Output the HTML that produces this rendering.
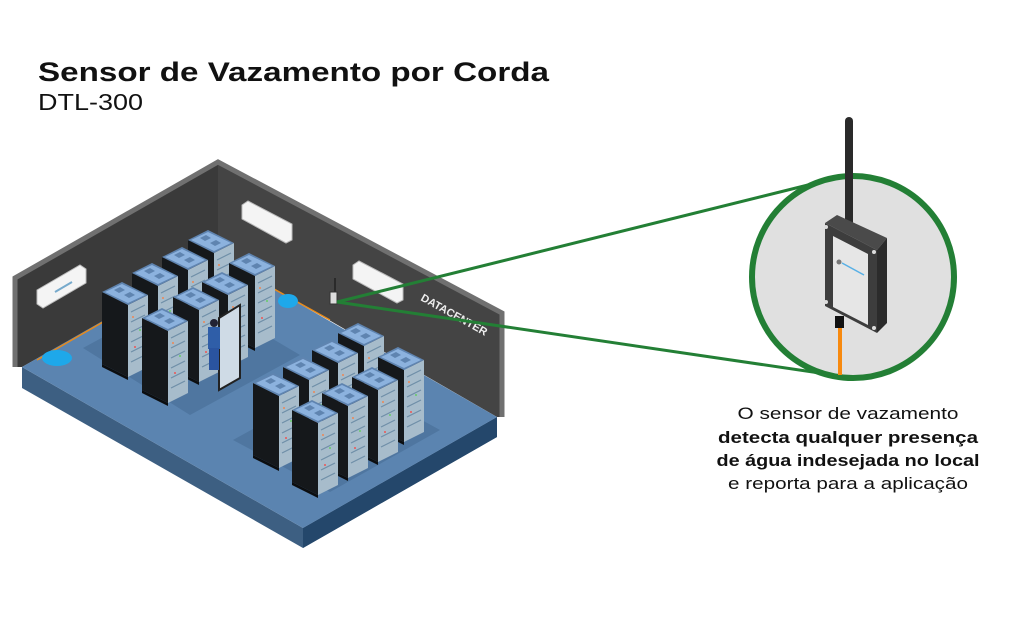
<!DOCTYPE html>
<html><head><meta charset="utf-8"><style>
html,body{margin:0;padding:0;background:#fff;}
svg{display:block;font-family:"Liberation Sans",sans-serif;}
</style></head><body>
<svg width="1024" height="627" viewBox="0 0 1024 627" xmlns="http://www.w3.org/2000/svg">
<defs>
  <g id="rack">
    <polygon points="0,0 26,13 26,85 0,72" fill="#15181b"/>
    <polygon points="26,13 46,3 46,75 26,85" fill="#a7bccb"/>
    <g stroke="#6f8fa8" stroke-width="1.2">
      <line x1="29" y1="20" x2="43" y2="13"/><line x1="29" y1="30" x2="43" y2="23"/>
      <line x1="29" y1="40" x2="43" y2="33"/><line x1="29" y1="50" x2="43" y2="43"/>
      <line x1="29" y1="60" x2="43" y2="53"/><line x1="29" y1="70" x2="43" y2="63"/>
    </g>
    <circle cx="31" cy="25" r="1" fill="#e85"/><circle cx="38" cy="38" r="1" fill="#6c6"/><circle cx="33" cy="55" r="1" fill="#e55"/>
    <polygon points="0,0 20,-10 46,3 26,13" fill="#5f84b0"/>
    <polygon points="3,0 20,-8 43,3 26,11" fill="#8cb2de"/>
    <polygon points="12,-2 18,-5 23,-2 17,1" fill="#5f84b0"/>
    <polygon points="22,3 28,0 33,3 27,6" fill="#5f84b0"/>
    <polygon points="0,72 26,85 26,88 0,75" fill="#0c0e10"/>
  </g>
</defs>

<!-- floor -->
<polygon points="22,367 303,528 497,417 497,437 303,548 22,388" fill="#3d5f82"/>
<polygon points="303,528 497,417 497,437 303,548" fill="#24476b"/>
<!-- walls -->
<polygon points="15,278 218,162 218,256 22,367 15,367" fill="#3a3a3a"/>
<polygon points="218,162 502,313 502,417 497,417 218,256" fill="#444"/>
<polyline points="15,367 15,278 218,162 502,313 502,417" fill="none" stroke="#707070" stroke-width="5"/>
<polygon points="22,367 216,256 497,417 303,528" fill="#5b84b0"/>
<polyline points="37,360 216,257 330,320" fill="none" stroke="#e88a1a" stroke-width="1.5"/>
<!-- shadows -->
<polygon points="83,348 190,290 300,355 190,415" fill="#4f76a0"/>
<polygon points="233,440 345,378 440,430 330,492" fill="#4f76a0"/>
<!-- puddles -->
<ellipse cx="57" cy="358" rx="15" ry="8" fill="#1ea8ea"/>
<ellipse cx="288" cy="301" rx="10" ry="7" fill="#1ea8ea"/>
<!-- ACs -->
<polygon points="37,290 80,265 86,269 86,283 43,308 37,304" fill="#f4f4f4" stroke="#bbb"/>
<line x1="55" y1="292" x2="72" y2="282" stroke="#7ac" stroke-width="2"/>
<polygon points="242,205 248,201 292,224 292,240 286,243 242,219" fill="#f4f4f4" stroke="#bbb"/>
<polygon points="353,265 359,261 403,284 403,300 397,303 353,279" fill="#f4f4f4" stroke="#bbb"/>
<!-- DATACENTER text -->
<text x="420" y="300" fill="#eee" font-size="11" font-weight="bold" transform="rotate(29 420 300)">DATACENTER</text>
<!-- racks group 1 -->
<use href="#rack" x="188" y="240"/>
<use href="#rack" x="162" y="257"/>
<use href="#rack" x="229" y="263"/>
<use href="#rack" x="132" y="273"/>
<use href="#rack" x="202" y="282"/>
<use href="#rack" x="102" y="292"/>
<use href="#rack" x="173" y="297"/>
<use href="#rack" x="142" y="318"/>
<!-- door + worker -->
<polygon points="219,318 240,305 240,378 219,390" fill="#cfdbe6" stroke="#222" stroke-width="2"/>
<rect x="208" y="327" width="12" height="22" fill="#2f5ea8"/>
<circle cx="214" cy="323" r="4" fill="#223"/>
<rect x="209" y="348" width="10" height="22" fill="#2a54a0"/>
<!-- racks group 2 -->
<use href="#rack" x="338" y="333"/>
<use href="#rack" x="312" y="350"/>
<use href="#rack" x="378" y="357"/>
<use href="#rack" x="283" y="367"/>
<use href="#rack" x="352" y="377"/>
<use href="#rack" x="253" y="383"/>
<use href="#rack" x="322" y="393"/>
<use href="#rack" x="292" y="410"/>
<!-- small sensor -->
<line x1="335" y1="278" x2="335" y2="292" stroke="#222" stroke-width="1.5"/>
<rect x="330" y="292" width="7" height="12" fill="#ddd" stroke="#333" stroke-width="1"/>
<!-- connector lines -->
<line x1="337" y1="302" x2="808" y2="185" stroke="#237f35" stroke-width="3"/>
<line x1="337" y1="302" x2="840" y2="376" stroke="#237f35" stroke-width="3"/>
<!-- circle -->
<circle cx="853" cy="277" r="101" fill="#e0e0e0" stroke="#237f35" stroke-width="6"/>
<!-- antenna -->
<line x1="849" y1="121" x2="849" y2="222" stroke="#2a2a2a" stroke-width="8" stroke-linecap="round"/>
<!-- device -->
<line x1="840" y1="322" x2="840" y2="375" stroke="#f7890f" stroke-width="4"/>
<rect x="835" y="316" width="9" height="12" fill="#111"/>
<polygon points="825,223 837,215 887,238 877,250" fill="#4a4a4a"/>
<polygon points="877,250 887,238 887,323 877,333" fill="#2b2b2b"/>
<polygon points="825,223 877,250 877,333 825,306" fill="#3d3d3d"/>
<polygon points="833,236 868,254 868,325 833,307" fill="#e6e6e6"/>
<circle cx="839" cy="262" r="2.5" fill="#777"/>
<line x1="842" y1="263" x2="864" y2="275" stroke="#58b0e6" stroke-width="1.5"/>
<circle cx="826" cy="227" r="2" fill="#ddd"/><circle cx="874" cy="252" r="2" fill="#ddd"/>
<circle cx="826" cy="302" r="2" fill="#ddd"/><circle cx="874" cy="328" r="2" fill="#ddd"/>
<!-- titles -->
<text x="38" y="81" font-size="27" font-weight="bold" fill="#111" textLength="511" lengthAdjust="spacingAndGlyphs">Sensor de Vazamento por Corda</text>
<text x="38" y="110" font-size="23" fill="#111" textLength="105" lengthAdjust="spacingAndGlyphs">DTL-300</text>
<!-- description -->
<g font-size="17" fill="#111" text-anchor="middle">
<text x="848" y="419" textLength="221" lengthAdjust="spacingAndGlyphs">O sensor de vazamento</text>
<text x="848" y="443" font-weight="bold" textLength="260" lengthAdjust="spacingAndGlyphs">detecta qualquer presença</text>
<text x="848" y="466" font-weight="bold" textLength="263" lengthAdjust="spacingAndGlyphs">de água indesejada no local</text>
<text x="848" y="489" textLength="240" lengthAdjust="spacingAndGlyphs">e reporta para a aplicação</text>
</g>
</svg>
</body></html>
